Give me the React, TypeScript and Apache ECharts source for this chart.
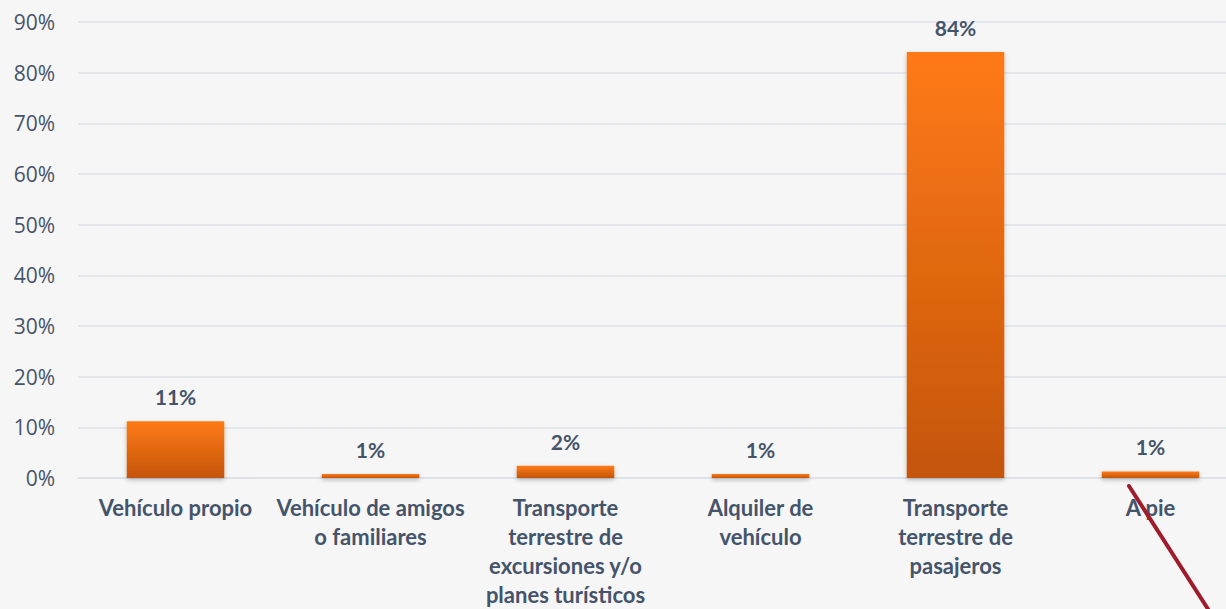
import React, { useEffect, useRef } from "react";
import * as echarts from "echarts";

const categories = [
  "Vehículo propio",
  "Vehículo de amigos\no familiares",
  "Transporte\nterrestre de\nexcursiones y/o\nplanes turísticos",
  "Alquiler de\nvehículo",
  "Transporte\nterrestre de\npasajeros",
  "A pie",
];
const values = [11.2, 0.8, 2.4, 0.8, 84.1, 1.3];
const labels = ["11%", "1%", "2%", "1%", "84%", "1%"];
const yTicks = [0, 10, 20, 30, 40, 50, 60, 70, 80, 90];

export default function App() {
  const ref = useRef<HTMLDivElement>(null);
  useEffect(() => {
    document.body.style.margin = "0";
    const chart = echarts.init(ref.current!, null, { renderer: "svg" });
    const textColor = "#44546A";
    chart.setOption({
      animation: false,
      backgroundColor: "#F7F6F6",
      grid: { left: 78, width: 1170, top: 22, bottom: 130, containLabel: false },
      xAxis: {
        type: "category",
        data: categories,
        axisLine: { show: true, lineStyle: { color: "#DCE1E8", width: 1.5 } },
        axisTick: { show: false },
        axisLabel: {
          interval: 0,
          color: textColor,
          fontFamily: "Lato",
          fontWeight: "bold",
          fontSize: 22,
          lineHeight: 29,
          margin: 15,
        },
      },
      yAxis: {
        type: "value",
        min: yTicks[0],
        max: yTicks[yTicks.length - 1],
        interval: 10,
        axisLine: { show: false },
        axisTick: { show: false },
        splitLine: { lineStyle: { color: "#DCE1E8", width: 1.5 } },
        axisLabel: {
          formatter: "{value}%",
          color: textColor,
          fontFamily: "Open Sans",
          fontSize: 21,
          margin: 23,
        },
      },
      series: [
        {
          type: "bar",
          data: values,
          barWidth: "50%",
          itemStyle: {
            color: new echarts.graphic.LinearGradient(0, 0, 0, 1, [
              { offset: 0, color: "#FF7A14" },
              { offset: 1, color: "#C4550E" },
            ]),
            shadowBlur: 4,
            shadowColor: "rgba(0,0,0,0.25)",
            shadowOffsetY: 2,
          },
          label: {
            show: true,
            position: "top",
            distance: 14,
            formatter: (p: any) => labels[p.dataIndex],
            color: textColor,
            fontFamily: "Lato",
            fontWeight: "bold",
            fontSize: 21,
          },
        },
      ],
      graphic: [
        {
          type: "line",
          shape: { x1: 1129, y1: 486, x2: 1208, y2: 609 },
          style: { stroke: "#9E1C2C", lineWidth: 4, lineCap: "round" },
          z: 100,
        },
      ],
    });
    return () => chart.dispose();
  }, []);
  return (
    <div style={{ position: "absolute", left: 0, top: 0, width: 1226, height: 609, overflow: "hidden" }}>
      <div ref={ref} style={{ width: 1248, height: 609 }} />
    </div>
  );
}
